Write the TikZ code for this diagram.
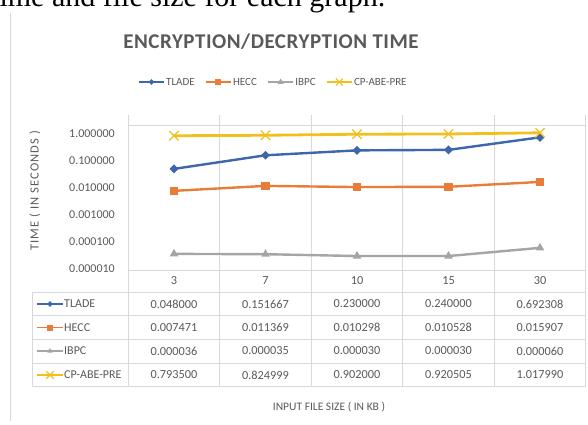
\documentclass[tikz,border=0pt]{standalone}
\usepackage{fontspec}
\setmainfont{Carlito}
\newfontfamily\docserif{Liberation Serif}
\usetikzlibrary{shapes.geometric,shapes.misc,positioning}

\definecolor{tladeblue}{RGB}{62,102,172}
\definecolor{heccorange}{RGB}{232,125,55}
\definecolor{ibpcgray}{RGB}{165,165,165}
\definecolor{cpyellow}{RGB}{240,192,30}
\definecolor{txtgray}{RGB}{89,89,89}
\definecolor{gridgray}{RGB}{217,217,217}

\begin{document}
\begin{tikzpicture}[
  x=1pt, y=-1pt,
  grid/.style={draw=gridgray, line width=0.8pt},
  ticklabel/.style={font=\fontsize{12}{13}\selectfont, text=txtgray, anchor=east, inner sep=0pt},
  cell/.style={font=\fontsize{12.3}{13}\selectfont, text=txtgray, inner sep=0pt},
  rowlabel/.style={font=\fontsize{12}{13}\selectfont, text=txtgray, anchor=west, inner sep=0pt},
  legtext/.style={font=\fontsize{11}{12}\selectfont, text=txtgray, anchor=west, inner sep=0pt},
  series/.style={line width=2.4pt, line cap=round, line join=round},
  keyline/.style={line width=1.8pt},
  tmark/.style={diamond, fill=tladeblue, inner sep=0pt, minimum size=9pt},
  hmark/.style={rectangle, fill=heccorange, inner sep=0pt, minimum size=8.5pt},
  imark/.style={regular polygon, regular polygon sides=3, fill=ibpcgray, inner sep=0pt, minimum size=10pt},
  cmark/.style={cross out, draw=cpyellow, line width=1.3pt, inner sep=0pt, minimum size=8pt},
  small/.style={minimum size=6pt}
]
\clip (0,0) rectangle (588,424);
\useasboundingbox (0,0) rectangle (588,424);

% text above the chart
\node[font=\docserif\fontsize{30}{30}\selectfont, anchor=base west, inner sep=0pt] (caption) at (-9,6.5) {time and file size for each graph.};

% chart frame
\draw[draw=gridgray, line width=0.6pt] (10,13) -- (10,421);

% title and legend
\node[font=\bfseries\fontsize{21}{23}\selectfont\addfontfeature{LetterSpace=2.5}, text=txtgray] (title) at (271,42) {ENCRYPTION/DECRYPTION TIME};

\coordinate (lg1) at (139,82);
\draw[keyline, tladeblue] (lg1) -- ++(25,0);
\node[tmark, small] at ([xshift=12.5pt]lg1) {};
\node[legtext] (lgt1) at ([xshift=27pt]lg1) {TLADE};
\coordinate (lg2) at ([xshift=11pt]lgt1.east);
\draw[keyline, heccorange] (lg2) -- ++(25,0);
\node[hmark, small] at ([xshift=12.5pt]lg2) {};
\node[legtext] (lgt2) at ([xshift=27pt]lg2) {HECC};
\coordinate (lg3) at ([xshift=11pt]lgt2.east);
\draw[keyline, ibpcgray] (lg3) -- ++(25,0);
\node[imark, small, minimum size=7pt] at ([xshift=12.5pt]lg3) {};
\node[legtext] (lgt3) at ([xshift=27pt]lg3) {IBPC};
\coordinate (lg4) at ([xshift=11pt]lgt3.east);
\draw[keyline, cpyellow] (lg4) -- ++(25,0);
\node[cmark, small, line width=1pt] at ([xshift=12.5pt]lg4) {};
\node[legtext] (lgt4) at ([xshift=27pt]lg4) {CP-ABE-PRE};

% plot area and data table grid
\foreach \x in {128,219.5,311,402.5,494,585.5}
  \draw[grid] (\x,115) -- (\x,387);
\draw[grid] (128,125) -- (585.5,125);
\draw[grid] (128,270) -- (585.5,270);
\foreach \y in {292,315.7,339.3,363,386.7}
  \draw[grid] (32,\y) -- (585.5,\y);
\draw[grid] (32,292) -- (32,386.7);

% axes
\foreach \lab [count=\i from 0] in {1.000000,0.100000,0.010000,0.001000,0.000100,0.000010}
  \node[ticklabel] (ytick\i) at (115,133.5+27*\i) {\lab};
\foreach \c [count=\i] in {3,7,10,15,30}
  \node[cell] (head\i) at (82.5+91.5*\i,281) {\c};
\node[font=\fontsize{12.5}{13}\selectfont\addfontfeature{LetterSpace=9}, text=txtgray, rotate=90] (ytitle) at (35,191) {TIME ( IN SECONDS )};
\node[font=\fontsize{11.5}{12}\selectfont, text=txtgray] (xtitle) at (329,407) {INPUT FILE SIZE ( IN KB )};

% TLADE
\foreach \v/\l [count=\i] in {0.048000/-1.3188,0.151667/-0.8191,0.230000/-0.6383,0.240000/-0.6198,0.692308/-0.1597}{
  \coordinate (tl\i) at (82.5+91.5*\i,{269-27.2*(\l+5)});
  \node[cell] (tlcell\i) at (82.5+91.5*\i,304) {\v};
}
% HECC
\foreach \v/\l [count=\i] in {0.007471/-2.1266,0.011369/-1.9443,0.010298/-1.9872,0.010528/-1.9776,0.015907/-1.7984}{
  \coordinate (hc\i) at (82.5+91.5*\i,{269-27.2*(\l+5)});
  \node[cell] (hccell\i) at (82.5+91.5*\i,327.5) {\v};
}
% IBPC
\foreach \v/\l [count=\i] in {0.000036/-4.4437,0.000035/-4.4559,0.000030/-4.5229,0.000030/-4.5229,0.000060/-4.2218}{
  \coordinate (ib\i) at (82.5+91.5*\i,{269-27.2*(\l+5)});
  \node[cell] (ibcell\i) at (82.5+91.5*\i,351) {\v};
}
% CP-ABE-PRE
\foreach \v/\l [count=\i] in {0.793500/-0.1005,0.824999/-0.0835,0.902000/-0.0448,0.920505/-0.0360,1.017990/0.0077}{
  \coordinate (cp\i) at (82.5+91.5*\i,{269-27.2*(\l+5)});
  \node[cell] (cpcell\i) at (82.5+91.5*\i,375) {\v};
}

\draw[series, ibpcgray] (ib1) -- (ib2) -- (ib3) -- (ib4) -- (ib5);
\draw[series, heccorange] (hc1) -- (hc2) -- (hc3) -- (hc4) -- (hc5);
\draw[series, tladeblue] (tl1) -- (tl2) -- (tl3) -- (tl4) -- (tl5);
\draw[series, cpyellow, line width=2.8pt] (cp1) -- (cp2) -- (cp3) -- (cp4) -- (cp5);
\foreach \i in {1,...,5}{
  \node[imark] (ibm\i) at (ib\i) {};
  \node[hmark] (hcm\i) at (hc\i) {};
  \node[tmark] (tlm\i) at (tl\i) {};
  \node[cmark] (cpm\i) at (cp\i) {};
}

% row keys of the data table
\foreach \nm/\clr/\mk/\y/\lab in {tk/tladeblue/tmark/304/TLADE,hk/heccorange/hmark/327.5/HECC,ik/ibpcgray/imark/351/IBPC,ck/cpyellow/cmark/375/CP-ABE-PRE}{
  \coordinate (\nm) at (50,\y);
  \draw[keyline, \clr] ([xshift=-13pt]\nm) -- ([xshift=13pt]\nm);
  \node[\mk, small] (\nm m) at (\nm) {};
  \node[rowlabel] (\nm t) at (64,\y) {\lab};
}
\end{tikzpicture}
\end{document}
